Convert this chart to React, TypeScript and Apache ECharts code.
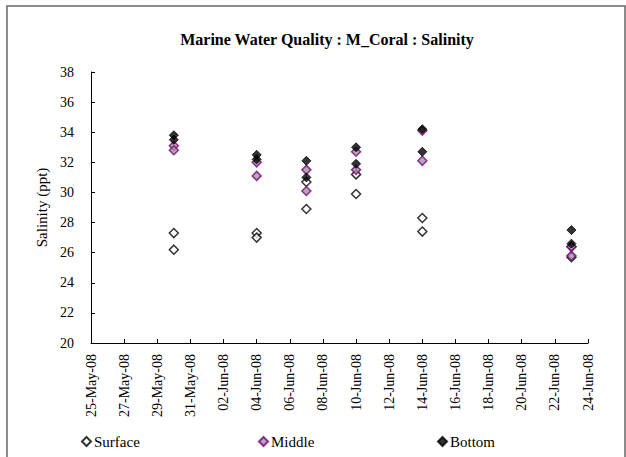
import React, { useEffect, useRef } from "react";
import * as echarts from "echarts";

const titleText = "Marine Water Quality : M_Coral : Salinity";
const yAxisName = "Salinity (ppt)";
const axisStart = "2008-05-25";
const axisDays = 30;
const sampleDates = ["2008-05-30", "2008-06-04", "2008-06-07", "2008-06-10", "2008-06-14", "2008-06-23"];
const surfaceA = [27.3, 27.3, 30.7, 31.2, 28.3, 26.4];
const surfaceB = [26.2, 27.0, 28.9, 29.9, 27.4, 25.7];
const middleA = [33.1, 32.0, 31.5, 32.7, 34.1, 26.4];
const middleB = [32.8, 31.1, 30.1, 31.5, 32.1, 25.8];
const bottomA = [33.8, 32.5, 32.1, 33.0, 34.2, 27.5];
const bottomB = [33.5, 32.2, 31.0, 31.9, 32.7, 26.6];
const months = ["Jan", "Feb", "Mar", "Apr", "May", "Jun", "Jul", "Aug", "Sep", "Oct", "Nov", "Dec"];

const DAY = 86400000;
const startMs = Date.parse(axisStart + "T00:00:00Z");
const dayOffset = (d: string) => Math.round((Date.parse(d + "T00:00:00Z") - startMs) / DAY);
const fmtDay = (v: number) => {
  const dt = new Date(startMs + v * DAY);
  const dd = String(dt.getUTCDate()).padStart(2, "0");
  const yy = String(dt.getUTCFullYear() % 100).padStart(2, "0");
  return `${dd}-${months[dt.getUTCMonth()]}-${yy}`;
};
const pairs = (a: number[], b: number[]) => {
  const out: number[][] = [];
  sampleDates.forEach((d, i) => {
    out.push([dayOffset(d), a[i]]);
    out.push([dayOffset(d), b[i]]);
  });
  return out;
};

const FONT = "'Liberation Serif', 'Times New Roman', serif";

export default function App() {
  const ref = useRef<HTMLDivElement>(null);
  useEffect(() => {
    if (!ref.current) return;
    const chart = echarts.init(ref.current, null, { renderer: "svg" });
    const legendCommon = {
      top: 429,
      itemWidth: 9,
      itemHeight: 9,
      itemGap: 4,
      icon: "diamond",
      textStyle: { fontFamily: FONT, fontSize: 15, color: "#000", padding: [0, 0, 0, -2] },
      selectedMode: false,
    };
    chart.setOption({
      animation: false,
      backgroundColor: "#fff",
      textStyle: { fontFamily: FONT },
      title: {
        text: titleText,
        left: 322,
        top: 26,
        textAlign: "center",
        textStyle: { fontFamily: FONT, fontSize: 16, fontWeight: "bold", color: "#000" },
      },
      graphic: [
        {
          type: "rect",
          shape: { x: 7, y: 6, width: 618, height: 470 },
          style: { fill: "none", stroke: "#666", lineWidth: 1.5 },
          silent: true,
        },
      ],
      legend: [
        { ...legendCommon, left: 76, data: ["Surface"] },
        { ...legendCommon, left: 253, data: ["Middle"] },
        { ...legendCommon, left: 432, data: ["Bottom"] },
      ],
      grid: { left: 91, right: 38, top: 72, bottom: 114 },
      xAxis: {
        type: "value",
        min: 0,
        max: axisDays,
        interval: 2,
        axisLine: { lineStyle: { color: "#000", width: 1 } },
        axisTick: { inside: true, length: 4, lineStyle: { color: "#000" } },
        splitLine: { show: false },
        axisLabel: {
          rotate: 90,
          margin: 11,
          fontFamily: FONT,
          fontSize: 14,
          color: "#000",
          formatter: (v: number) => fmtDay(v),
        },
      },
      yAxis: {
        type: "value",
        min: 20,
        max: 38,
        interval: 2,
        name: yAxisName,
        nameLocation: "middle",
        nameGap: 40,
        nameRotate: 90,
        nameTextStyle: { fontFamily: FONT, fontSize: 15, color: "#000" },
        axisLine: { show: true, lineStyle: { color: "#000", width: 1 } },
        axisTick: { show: true, inside: true, length: 4, lineStyle: { color: "#000" } },
        splitLine: { show: false },
        axisLabel: { margin: 17, fontFamily: FONT, fontSize: 14, color: "#000" },
      },
      series: [
        {
          name: "Surface",
          type: "scatter",
          symbol: "diamond",
          symbolSize: [9, 9],
          data: pairs(surfaceA, surfaceB),
          itemStyle: { color: "#fff", borderColor: "#000", borderWidth: 1.5 },
          z: 2,
        },
        {
          name: "Middle",
          type: "scatter",
          symbol: "diamond",
          symbolSize: [9, 9],
          data: pairs(middleA, middleB),
          itemStyle: { color: "#999", borderColor: "#800080", borderWidth: 1.5 },
          z: 3,
        },
        {
          name: "Bottom",
          type: "scatter",
          symbol: "diamond",
          symbolSize: [9, 9],
          data: pairs(bottomA, bottomB),
          itemStyle: { color: "#000", borderColor: "#000", borderWidth: 1 },
          z: 4,
        },
      ],
    });
    return () => chart.dispose();
  }, []);
  return (
    <div
      ref={ref}
      style={{ position: "absolute", left: 0, top: 0, width: 626, height: 457 }}
    />
  );
}
